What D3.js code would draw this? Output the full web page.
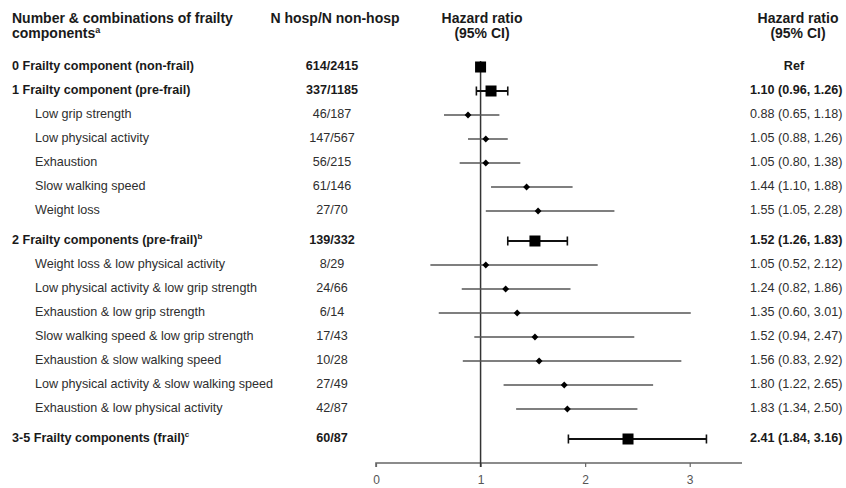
<!DOCTYPE html>
<html><head><meta charset="utf-8">
<script src="https://cdn.jsdelivr.net/npm/d3@7"></script>
<style>
html,body{margin:0;padding:0;background:#fff;}
svg text{font-family:"Liberation Sans",Arial,sans-serif;}
</style></head>
<body><svg id="c" width="846" height="488"></svg>
<script>
const labels = ["0 Frailty component (non-frail)","1 Frailty component (pre-frail)","Low grip strength","Low physical activity","Exhaustion","Slow walking speed","Weight loss","2 Frailty components (pre-frail)","Weight loss & low physical activity","Low physical activity & low grip strength","Exhaustion & low grip strength","Slow walking speed & low grip strength","Exhaustion & slow walking speed","Low physical activity & slow walking speed","Exhaustion & low physical activity","3-5 Frailty components (frail)"];
const superscripts = ["","","","","","","","b","","","","","","","","c"];
const isMain = [true,true,false,false,false,false,false,true,false,false,false,false,false,false,false,true];
const counts = ["614/2415","337/1185","46/187","147/567","56/215","61/146","27/70","139/332","8/29","24/66","6/14","17/43","10/28","27/49","42/87","60/87"];
const hr =  [1.00,1.10,0.88,1.05,1.05,1.44,1.55,1.52,1.05,1.24,1.35,1.52,1.56,1.80,1.83,2.41];
const lo =  [null,0.96,0.65,0.88,0.80,1.10,1.05,1.26,0.52,0.82,0.60,0.94,0.83,1.22,1.34,1.84];
const hi =  [null,1.26,1.18,1.26,1.38,1.88,2.28,1.83,2.12,1.86,3.01,2.47,2.92,2.65,2.50,3.16];
const ciText = ["Ref","1.10 (0.96, 1.26)","0.88 (0.65, 1.18)","1.05 (0.88, 1.26)","1.05 (0.80, 1.38)","1.44 (1.10, 1.88)","1.55 (1.05, 2.28)","1.52 (1.26, 1.83)","1.05 (0.52, 2.12)","1.24 (0.82, 1.86)","1.35 (0.60, 3.01)","1.52 (0.94, 2.47)","1.56 (0.83, 2.92)","1.80 (1.22, 2.65)","1.83 (1.34, 2.50)","2.41 (1.84, 3.16)"];
const xTicks = [0,1,2,3];

const svg = d3.select("#c");
const x = d3.scaleLinear().domain([0,3.5]).range([376,742]);

// slot positions with extra gap before main rows that follow sub rows
let slots = [], s = 0;
labels.forEach((l,i)=>{ if(i>0){ s += 1; if(isMain[i] && !isMain[i-1]) s += 0.25; } slots.push(s); });
const y = d3.scaleLinear().domain([0,1]).range([67,91]);

const txt = "#1a1a1a";
const sub = "#2e2e2e";
const fs = 12.6;
// headers
const hdr = svg.append("g").attr("font-weight","bold").attr("font-size",14).attr("fill",txt);
hdr.append("text").attr("x",12).attr("y",23).text("Number & combinations of frailty");
const h2 = hdr.append("text").attr("x",12).attr("y",38).text("components");
h2.append("tspan").attr("font-size",9).attr("dy",-5).text("a");
hdr.append("text").attr("x",335).attr("y",23).attr("text-anchor","middle").text("N hosp/N non-hosp");
hdr.append("text").attr("x",482).attr("y",23).attr("text-anchor","middle").text("Hazard ratio");
hdr.append("text").attr("x",482).attr("y",38).attr("text-anchor","middle").text("(95% CI)");
hdr.append("text").attr("x",798).attr("y",23).attr("text-anchor","middle").text("Hazard ratio");
hdr.append("text").attr("x",798).attr("y",38).attr("text-anchor","middle").text("(95% CI)");

// row labels
labels.forEach((l,i)=>{
  const yy = y(slots[i]) + 2.5;
  const t = svg.append("text").attr("x", isMain[i]?12:35).attr("y",yy)
    .attr("font-size",fs).attr("font-weight",isMain[i]?"bold":"normal")
    .attr("fill", isMain[i]?txt:sub).text(l);
  if(superscripts[i]) t.append("tspan").attr("font-size",8).attr("dy",-5).text(superscripts[i]);
  svg.append("text").attr("x",332).attr("y",yy).attr("text-anchor","middle")
    .attr("font-size",fs).attr("font-weight",isMain[i]?"bold":"normal").attr("fill",isMain[i]?txt:sub).text(counts[i]);
  svg.append("text").attr("x", i===0?794:750).attr("y",yy).attr("text-anchor", i===0?"middle":"start")
    .attr("font-size",fs).attr("font-weight",isMain[i]?"bold":"normal").attr("fill",isMain[i]?txt:sub).text(ciText[i]);
});

// axis
const axisY = 463;
const ax = svg.append("g").attr("transform",`translate(0,${axisY})`)
  .call(d3.axisBottom(x).tickValues(xTicks).tickFormat(d3.format("d")).tickSize(4).tickPadding(8));
ax.select(".domain").attr("stroke","#666").attr("stroke-width",1.6).attr("d",`M${x(0)},4V0H${x(3.5)}`);
ax.selectAll(".tick line").attr("stroke","#666").attr("stroke-width",1.2);
ax.selectAll(".tick text").attr("font-size",12).attr("fill","#555").attr("font-family","Liberation Sans, Arial, sans-serif");

// reference line
svg.append("line").attr("x1",x(1)).attr("x2",x(1)).attr("y1",y(slots[0])-6).attr("y2",axisY+4)
  .attr("stroke","#333").attr("stroke-width",1.5);

// CIs and markers
labels.forEach((l,i)=>{
  const yy = y(slots[i]);
  if(lo[i]!==null){
    svg.append("line").attr("x1",x(lo[i])).attr("x2",x(hi[i])).attr("y1",yy).attr("y2",yy)
      .attr("stroke", isMain[i]?"#111":"#555").attr("stroke-width", isMain[i]?2:1.3);
    if(isMain[i]){
      [lo[i],hi[i]].forEach(v=>svg.append("line").attr("x1",x(v)).attr("x2",x(v)).attr("y1",yy-4.5).attr("y2",yy+4.5).attr("stroke","#111").attr("stroke-width",1.6));
    }
  }
  if(isMain[i]){
    svg.append("rect").attr("x",x(hr[i])-5.5).attr("y",yy-5.5).attr("width",11).attr("height",11).attr("fill","#000");
  } else {
    svg.append("path").attr("d",d3.symbol(d3.symbolDiamond2, 30)).attr("transform",`translate(${x(hr[i])},${yy})`).attr("fill","#000");
  }
});
</script></body></html>
